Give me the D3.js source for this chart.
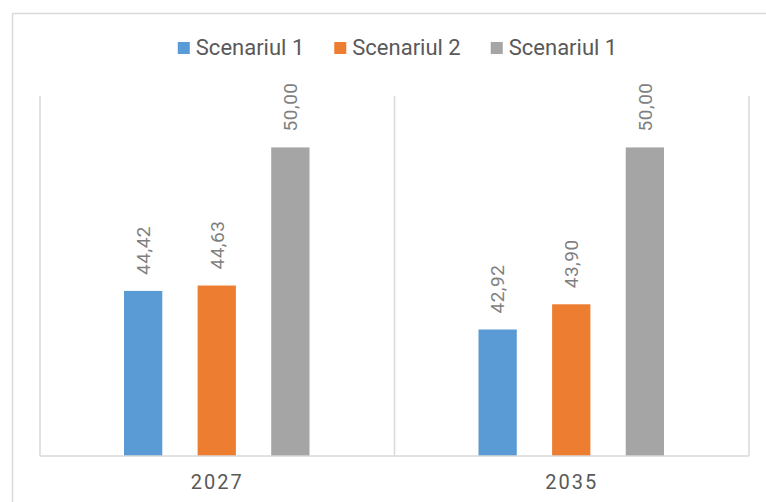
<!DOCTYPE html>
<html>
<head>
<meta charset="utf-8">
<script src="https://cdn.jsdelivr.net/npm/d3@7/dist/d3.min.js"></script>
<style>
  html, body { margin: 0; padding: 0; background: #fff; }
  svg { display: block; font-family: Roboto, "Noto Sans", sans-serif; }
</style>
</head>
<body>
<svg id="chart" width="766" height="502"></svg>
<script>
// Data
const years = ["2027", "2035"];
const seriesNames = ["Scenariul 1", "Scenariul 2", "Scenariul 1"];
const seriesColors = ["#5B9BD5", "#ED7D31", "#A5A5A5"];
const scenario1 = [44.42, 42.92];
const scenario2 = [44.63, 43.90];
const scenario3 = [50.00, 50.00];
const seriesValues = [scenario1, scenario2, scenario3];

const svg = d3.select("#chart");
const W = 766, H = 502;

// Outer chart frame (runs past the right and bottom edges)
svg.append("rect")
  .attr("x", 12.5).attr("y", 13.5)
  .attr("width", 800).attr("height", 520)
  .attr("fill", "#fff")
  .attr("stroke", "#D9D9D9").attr("stroke-width", 1.5);

// Plot area
const plot = { left: 40, right: 749, top: 96, bottom: 456 };

const x0 = d3.scaleBand().domain(years).range([plot.left, plot.right]).padding(0);
const bandW = x0.bandwidth();
const x1 = d3.scaleBand().domain(d3.range(seriesNames.length))
  .range([84, bandW - 85]).paddingInner(0.48).paddingOuter(0);
const y = d3.scaleLinear().domain([38, 52]).range([plot.bottom, plot.top]);

// Category separator lines
const bounds = [plot.left].concat(years.map(c => x0(c) + bandW));
svg.append("g").selectAll("line").data(bounds).join("line")
  .attr("x1", d => d).attr("x2", d => d)
  .attr("y1", plot.top).attr("y2", plot.bottom)
  .attr("stroke", "#D9D9D9").attr("stroke-width", 1.5);

// Bars
const groups = svg.append("g").selectAll("g").data(years).join("g")
  .attr("transform", c => `translate(${x0(c)},0)`);

groups.selectAll("rect")
  .data((c, i) => seriesValues.map((vals, s) => ({ s, v: vals[i] })))
  .join("rect")
  .attr("x", d => x1(d.s))
  .attr("width", x1.bandwidth())
  .attr("y", d => y(d.v))
  .attr("height", d => plot.bottom - y(d.v))
  .attr("fill", d => seriesColors[d.s]);

// Value labels, rotated
const fmt = v => v.toFixed(2).replace(".", ",");
groups.selectAll("text.val")
  .data((c, i) => seriesValues.map((vals, s) => ({ s, v: vals[i] })))
  .join("text")
  .attr("class", "val")
  .attr("transform", d => `translate(${x1(d.s) + x1.bandwidth() / 2},${y(d.v) - 16}) rotate(-90)`)
  .attr("dy", "0.36em")
  .attr("text-anchor", "start")
  .attr("font-size", 19)
  .attr("letter-spacing", 0.5)
  .attr("fill", "#7F7F7F")
  .text(d => fmt(d.v));

// Category axis
svg.append("line")
  .attr("x1", plot.left).attr("x2", plot.right)
  .attr("y1", plot.bottom).attr("y2", plot.bottom)
  .attr("stroke", "#D9D9D9").attr("stroke-width", 1.5);

svg.append("g").selectAll("text").data(years).join("text")
  .attr("x", c => x0(c) + bandW / 2)
  .attr("y", 489)
  .attr("text-anchor", "middle")
  .attr("font-size", 20)
  .attr("letter-spacing", 2)
  .attr("fill", "#595959")
  .text(c => c);

// Legend
const legend = svg.append("g");
let cx = 0;
const items = seriesNames.map((name, i) => {
  const g = legend.append("g");
  g.append("rect").attr("x", 0).attr("y", 42).attr("width", 12).attr("height", 12)
    .attr("fill", seriesColors[i]);
  const t = g.append("text").attr("x", 18).attr("y", 55)
    .attr("font-size", 22).attr("fill", "#595959").text(name);
  const w = 18 + t.node().getComputedTextLength();
  g.attr("transform", `translate(${cx},0)`);
  cx += w + 30;
  return w;
});
const totalW = cx - 30;
legend.attr("transform", `translate(${397.5 - totalW / 2},0)`);
</script>
</body>
</html>
